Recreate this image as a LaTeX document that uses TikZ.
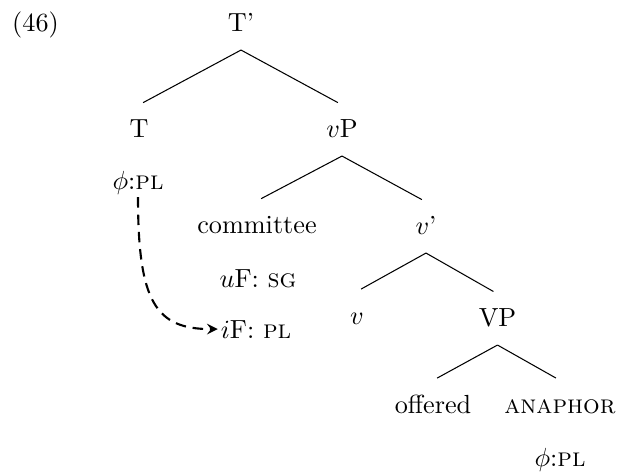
\documentclass[tikz,border=0pt]{standalone}
\begin{document}
\begin{tikzpicture}[x=0.3817pt, y=-0.3817pt,
  cat/.style={anchor=base, text height=1.5ex, text depth=.25ex, inner ysep=5.8pt},
  feat/.style={anchor=base, inner sep=1pt},
  branch/.style={shorten >=1.8pt}]
\useasboundingbox (0,0) rectangle (629,472);
\node[anchor=base] (exnum) at (35.5,31.5) {(46)};
\node[cat] (tbar) at (241,31.5) {T'};
\node[cat] (t) at (139,137.5) {T};
\node[cat] (vp) at (342,137.5) {$v$P};
\draw[branch] (tbar.south) -- (t.north);
\draw[branch] (tbar.south) -- (vp.north);
\node[feat] (tphi) at (138,189) {$\phi$:\textsc{pl}};
\node[cat] (comm) at (257,233.5) {committee};
\node[cat] (vbar) at (426,234.5) {$v$'};
\draw[branch] (vp.south) -- (comm.north);
\draw[branch] (vp.south) -- (vbar.north);
\node[feat] (ufeat) at (258,287) {$u$F: \textsc{sg}};
\node[feat] (ifeat) at (256,338) {$i$F: \textsc{pl}};
\node[cat] (v) at (357,324) {$v$};
\node[cat] (vpbig) at (497.5,326.5) {VP};
\draw[branch] (vbar.south) -- (v.north);
\draw[branch] (vbar.south) -- (vpbig.north);
\node[cat] (offered) at (433,413) {offered};
\node[cat] (anaph) at (560,413) {\textsc{anaphor}};
\draw[branch] (vpbig.south) -- (offered.north);
\draw[branch] (vpbig.south) -- (anaph.north);
\node[feat] (anaphi) at (560,466.5) {$\phi$:\textsc{pl}};
% agreement
\draw[dash pattern=on 4pt off 2.6pt, thick, -stealth] (tphi.south) .. controls +(0,105) and +(-62,0) .. (ifeat.west);
\end{tikzpicture}
\end{document}
